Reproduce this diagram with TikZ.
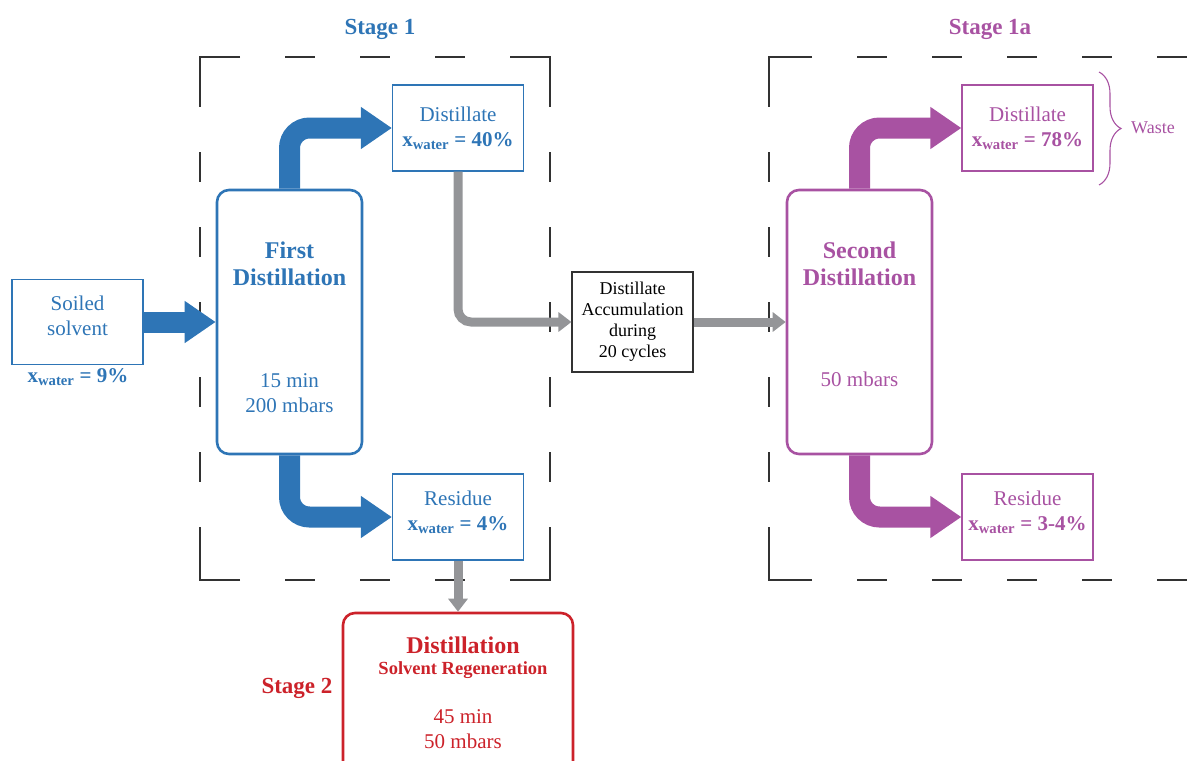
\documentclass[tikz,border=0pt]{standalone}
\usepackage{fontspec}
\setmainfont{Liberation Serif}
\usetikzlibrary{arrows.meta, positioning, decorations.pathreplacing}
\definecolor{stblue}{RGB}{46,117,182}
\definecolor{stmag}{RGB}{168,82,162}
\definecolor{stred}{RGB}{204,34,42}
\definecolor{flowgray}{RGB}{148,149,152}
\definecolor{framegray}{RGB}{50,50,50}
\newcommand{\fsz}[2]{\fontsize{#1}{#2}\selectfont}
\newcommand{\xw}[1]{\textbf{x\textsubscript{water} = #1}}

\begin{document}
\begin{tikzpicture}[x=1pt, y=-1pt,
  thinbox/.style={draw=#1, text=#1, line width=1.2pt, minimum width=131pt, minimum height=86pt, inner sep=0pt, align=center, font=\fsz{21}{25}},
  still/.style={draw=#1, line width=2.6pt, rounded corners=12pt, minimum width=145pt, minimum height=264pt, inner sep=0pt},
  fat/.style={#1, line width=21pt, rounded corners=20pt, -{Triangle[length=31pt, width=40pt]}},
  pipe/.style={flowgray, line width=9pt, rounded corners=13pt, -{Triangle[length=13pt, width=19pt]}},
  frame/.style={framegray, line width=1.3pt, dash pattern=on 30pt off 45pt},
  corner/.style={framegray, line width=1.3pt},
  stagelbl/.style={text=#1, font=\bfseries\fsz{23}{27}},
]
  \useasboundingbox (0,0) rectangle (1188,760);

  % stage frames
  \draw[frame, dash phase=65pt] (200,57) -- (550,57);
  \draw[frame, dash phase=65pt] (200,580) -- (550,580);
  \draw[frame, dash phase=55pt] (200,57) -- (200,580);
  \draw[frame, dash phase=55pt] (550,57) -- (550,580);
  \draw[corner] (240,57) -- (200,57) -- (200,107);
  \draw[corner] (510,57) -- (550,57) -- (550,107);
  \draw[corner] (240,580) -- (200,580) -- (200,527);
  \draw[corner] (510,580) -- (550,580) -- (550,527);
  \draw[frame, dash phase=62pt] (769,57) -- (1188,57);
  \draw[frame, dash phase=62pt] (769,580) -- (1188,580);
  \draw[frame, dash phase=55pt] (769,57) -- (769,580);
  \draw[corner] (812,57) -- (769,57) -- (769,107);
  \draw[corner] (812,580) -- (769,580) -- (769,527);

  \node[stagelbl=stblue] (stage1) at (380,29) {Stage 1};
  \node[stagelbl=stmag] (stage1a) at (990,29) {Stage 1a};
  \node[stagelbl=stred] (stage2) at (297,688) {Stage 2};

  % feed
  \node[thinbox=stblue, minimum height=85pt] (soil) at (77.5,322) {Soiled\\solvent\\[-13pt]\mbox{}};
  \node[text=stblue, font=\fsz{21}{25}] (soilx) at (78,377) {\xw{9\%}};

  % first distillation
  \node[still=stblue] (fd) at (289.5,322) {};
  \node[text=stblue, font=\bfseries\fsz{24}{27}, align=center] (fdtitle) at (289.5,264) {First\\Distillation};
  \node[text=stblue, font=\fsz{21}{25}, align=center] (fdcond) at (289.5,393) {15 min\\200 mbars};
  \node[thinbox=stblue] (dist1) at (458,128) {Distillate\\\xw{40\%}};
  \node[thinbox=stblue] (res1) at (458,517) {Residue\\\xw{4\%}\\[-13pt]\mbox{}};

  % accumulation
  \node[draw=framegray, line width=1.1pt, minimum width=121pt, minimum height=100pt, inner sep=0pt, align=center, font=\fsz{18}{21}] (acc) at (632.5,322) {Distillate\\Accumulation\\during\\20 cycles};

  % second distillation
  \node[still=stmag] (sd) at (859.5,322) {};
  \node[text=stmag, font=\bfseries\fsz{24}{27}, align=center] (sdtitle) at (859.5,264) {Second\\Distillation};
  \node[text=stmag, font=\fsz{21}{25}] (sdcond) at (859.5,379) {50 mbars};
  \node[thinbox=stmag] (dist2) at (1027.5,128) {Distillate\\\xw{78\%}};
  \node[thinbox=stmag] (res2) at (1027.5,517) {Residue\\\xw{3-4\%}\\[-13pt]\mbox{}};
  \draw[stmag, line width=1.1pt, decorate, decoration={brace, amplitude=22pt, aspect=0.5}] (1099,72) -- (1099,185);
  \node[text=stmag, font=\fsz{18}{21}] (waste) at (1153,128) {Waste};

  % regeneration
  \node[still=stred, minimum width=230pt, minimum height=180pt] (regen) at (458,703) {};
  \node[text=stred, font=\bfseries\fsz{24}{27}] (regtitle) at (463,645) {Distillation};
  \node[text=stred, font=\bfseries\fsz{18.5}{21}] (regsub) at (463,670) {Solvent Regeneration};
  \node[text=stred, font=\fsz{21}{25}, align=center] (regcond) at (463,729) {45 min\\50 mbars};

  % flows
  \draw[fat=stblue] (soil.east) -- (fd.west);
  \draw[fat=stblue] (fd.north) |- (dist1.west);
  \draw[fat=stblue] (fd.south) |- (res1.west);
  \draw[fat=stmag] (sd.north) |- (dist2.west);
  \draw[fat=stmag] (sd.south) |- (res2.west);
  \draw[pipe] (dist1.south) |- (acc.west);
  \draw[pipe] (acc.east) -- (sd.west);
  \draw[pipe] (res1.south) -- (regen.north);
\end{tikzpicture}
\end{document}
